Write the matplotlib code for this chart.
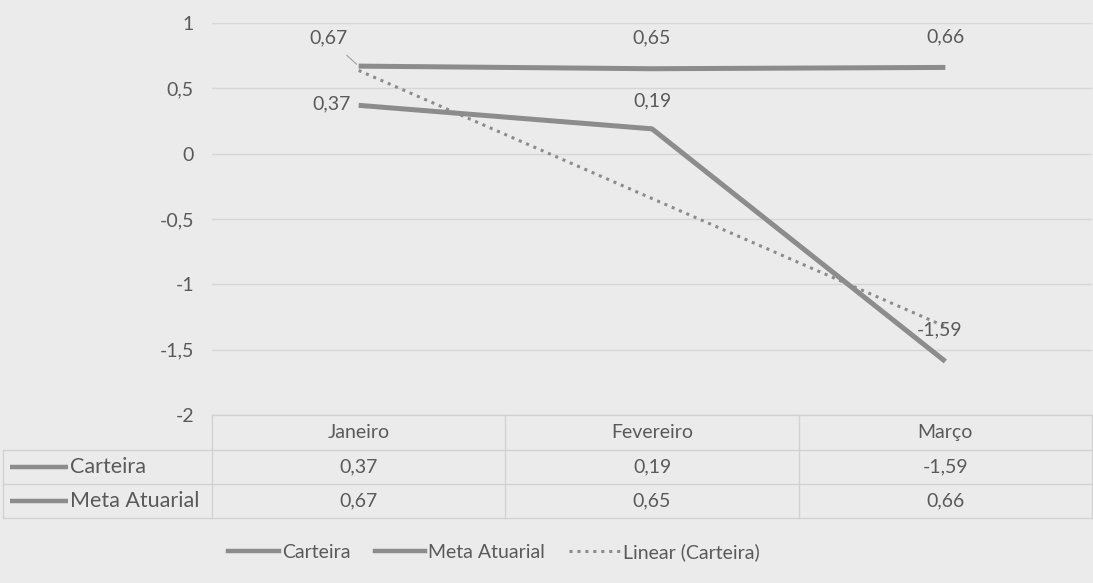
import matplotlib
matplotlib.use("Agg")
import matplotlib.pyplot as plt
from matplotlib.lines import Line2D

# Dados do gráfico
meses = ["Janeiro", "Fevereiro", "Março"]
carteira = [0.37, 0.19, -1.59]
meta_atuarial = [0.67, 0.65, 0.66]
series_nomes = ["Carteira", "Meta Atuarial"]
y_ticks = [1, 0.5, 0, -0.5, -1, -1.5, -2]

plt.rcParams['font.family'] = ['Lato', 'DejaVu Sans']

fundo = "#ebebeb"
cor_linha = "#8c8c8c"
cor_grade = "#d6d6d6"
cor_texto = "#5a5a5a"
fs = 14

W, H = 1093, 583
fig = plt.figure(figsize=(W / 100, H / 100), dpi=100, facecolor=fundo)

# Área do gráfico em pixels
x0, x1 = 212, 1092
y_top, y_bot = 23, 415
ax = fig.add_axes([x0 / W, 1 - y_bot / H, (x1 - x0) / W, (y_bot - y_top) / H])
ax.set_facecolor(fundo)

xs = list(range(len(meses)))
ax.plot(xs, carteira, color=cor_linha, lw=3.6, solid_capstyle='butt', zorder=3)
ax.plot(xs, meta_atuarial, color=cor_linha, lw=3.6, solid_capstyle='butt', zorder=3)

# Linha de tendência linear (Carteira) - mínimos quadrados
n = len(xs)
mx = sum(xs) / n
my = sum(carteira) / n
incl = sum((x - mx) * (y - my) for x, y in zip(xs, carteira)) / sum((x - mx) ** 2 for x in xs)
tend = [my + incl * (x - mx) for x in xs]
ax.plot(xs, tend, color=cor_linha, lw=2.2, ls=(0, (1, 1.6)), zorder=2)

ax.set_xlim(-0.5, len(meses) - 0.5)
ax.set_ylim(-2, 1)
ax.set_yticks(y_ticks)
ax.set_yticklabels([("%g" % v).replace(".", ",") for v in y_ticks], color=cor_texto, fontsize=fs)
ax.set_xticks([])
ax.tick_params(axis='y', length=0, pad=13)
ax.grid(axis='y', color=cor_grade, lw=1)
for s in ax.spines.values():
    s.set_visible(False)

fmt = lambda v: ("%.2f" % v).replace(".", ",")

# Rótulos de dados - Meta Atuarial
ax.annotate(fmt(meta_atuarial[0]), (0, meta_atuarial[0]), xytext=(-22, 20), textcoords='offset points',
            ha='center', va='center', fontsize=fs, color=cor_texto,
            arrowprops=dict(arrowstyle='-', color="#a0a0a0", lw=0.8, shrinkA=6, shrinkB=2))
for i in xs[1:]:
    ax.annotate(fmt(meta_atuarial[i]), (i, meta_atuarial[i]), xytext=(0, 22), textcoords='offset points',
                ha='center', va='center', fontsize=fs, color=cor_texto)

# Rótulos de dados - Carteira
ax.annotate(fmt(carteira[0]), (0, carteira[0]), xytext=(-6, 1), textcoords='offset points',
            ha='right', va='center', fontsize=fs, color=cor_texto)
ax.annotate(fmt(carteira[1]), (1, carteira[1]), xytext=(0, 20), textcoords='offset points',
            ha='center', va='center', fontsize=fs, color=cor_texto)
ax.annotate(fmt(carteira[2]), (2, carteira[2]), xytext=(-4, 23), textcoords='offset points',
            ha='center', va='center', fontsize=fs, color=cor_texto)

# Tabela de dados
tab = fig.add_axes([0, 0, 1, 1], facecolor='none')
tab.set_xlim(0, W)
tab.set_ylim(H, 0)
tab.axis('off')
cor_tab = "#d2d2d2"
linhas_y = [415, 450, 484, 518]
col_w = (x1 - x0) / len(meses)
cols_x = [x0 + i * col_w for i in range(len(meses) + 1)]
tab.plot([x0, x1], [linhas_y[0], linhas_y[0]], color=cor_tab, lw=1)
for yy in linhas_y[1:]:
    tab.plot([3, x1], [yy, yy], color=cor_tab, lw=1)
tab.plot([3, 3], [linhas_y[1], linhas_y[-1]], color=cor_tab, lw=1)
for cx in cols_x:
    tab.plot([cx, cx], [linhas_y[0], linhas_y[-1]], color=cor_tab, lw=1)

for i, m in enumerate(meses):
    cx = x0 + (i + 0.5) * col_w
    tab.text(cx, (linhas_y[0] + linhas_y[1]) / 2, m, ha='center', va='center', fontsize=fs, color=cor_texto)
    for r, serie in enumerate([carteira, meta_atuarial]):
        yy = (linhas_y[r + 1] + linhas_y[r + 2]) / 2
        tab.text(cx, yy, fmt(serie[i]), ha='center', va='center', fontsize=fs, color=cor_texto)

for r, nome in enumerate(series_nomes):
    yy = (linhas_y[r + 1] + linhas_y[r + 2]) / 2
    tab.plot([10, 68], [yy, yy], color=cor_linha, lw=3.2, solid_capstyle='butt')
    tab.text(70, yy, nome, ha='left', va='center', fontsize=15.5, color=cor_texto)

# Legenda
handles = [Line2D([], [], color=cor_linha, lw=3.2),
           Line2D([], [], color=cor_linha, lw=3.2),
           Line2D([], [], color=cor_linha, lw=2.2, ls=(0, (1, 1.6)))]
fig.legend(handles, ["Carteira", "Meta Atuarial", "Linear (Carteira)"], loc='center',
           bbox_to_anchor=(494 / W, 1 - 552 / H), ncol=3, frameon=False, handlelength=2.6,
           handletextpad=0.15, columnspacing=1.25, prop={'size': fs}, labelcolor=cor_texto)

fig.savefig("out.png", dpi=100, facecolor=fundo)
